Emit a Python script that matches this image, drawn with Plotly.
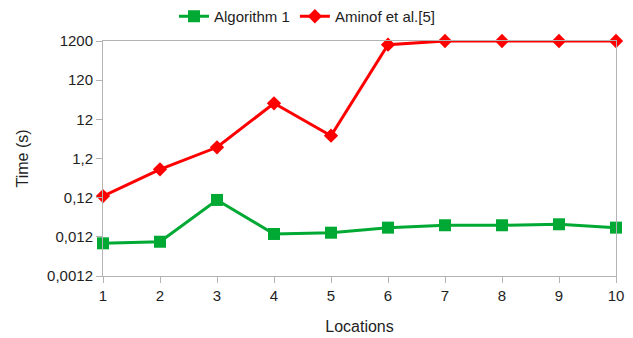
import plotly.graph_objects as go

locations = [1, 2, 3, 4, 5, 6, 7, 8, 9, 10]
algorithm1 = [0.0082, 0.0090, 0.105, 0.0142, 0.0153, 0.0206, 0.0237, 0.0237, 0.0251, 0.0206]
aminof = [0.132, 0.636, 2.32, 30.8, 4.58, 966, 1200, 1200, 1200, 1200]
y_tickvals = [0.0012, 0.012, 0.12, 1.2, 12, 120, 1200]
y_ticktext = ["0,0012", "0,012", "0,12", "1,2", "12", "120", "1200"]

fig = go.Figure()
fig.add_trace(go.Scatter(
    x=locations, y=algorithm1, name="Algorithm 1", mode="lines+markers",
    line=dict(color="#00a933", width=3),
    marker=dict(symbol="square", size=12, color="#00a933"),
    cliponaxis=False,
))
fig.add_trace(go.Scatter(
    x=locations, y=aminof, name="Aminof et al.[5]", mode="lines+markers",
    line=dict(color="#ff0000", width=3),
    marker=dict(symbol="diamond", size=11, color="#ff0000"),
    cliponaxis=False,
))

axis_common = dict(
    showline=True, linecolor="#b3b3b3", linewidth=1, mirror=True,
    ticks="outside", ticklen=6, tickcolor="#b3b3b3",
    showgrid=False, zeroline=False, automargin=False,
)

fig.update_layout(
    width=633, height=338,
    margin=dict(l=103, r=17, t=41, b=62),
    paper_bgcolor="white", plot_bgcolor="white",
    font=dict(family="Liberation Sans, Arial, sans-serif", size=15, color="#1e1e1e"),
    legend=dict(orientation="h", xref="container", x=0.485, xanchor="center",
                y=1.0, yanchor="top", yref="container",
                font=dict(size=15), itemwidth=30, tracegroupgap=0),
    xaxis=dict(range=[1, 10], tickvals=locations,
               tickfont=dict(size=15, color="#1e1e1e"),
               title=dict(text="Locations", standoff=17, font=dict(size=16)), **axis_common),
    yaxis=dict(type="log", range=[-2.9208, 3.0792], tickvals=y_tickvals, ticktext=y_ticktext,
               tickfont=dict(size=15, color="#1e1e1e"),
               title=dict(text="Time (s)", standoff=14, font=dict(size=16)), **axis_common),
)

fig.write_html("out.html", config={"displayModeBar": False},
               post_script="document.body.style.margin='0';")
